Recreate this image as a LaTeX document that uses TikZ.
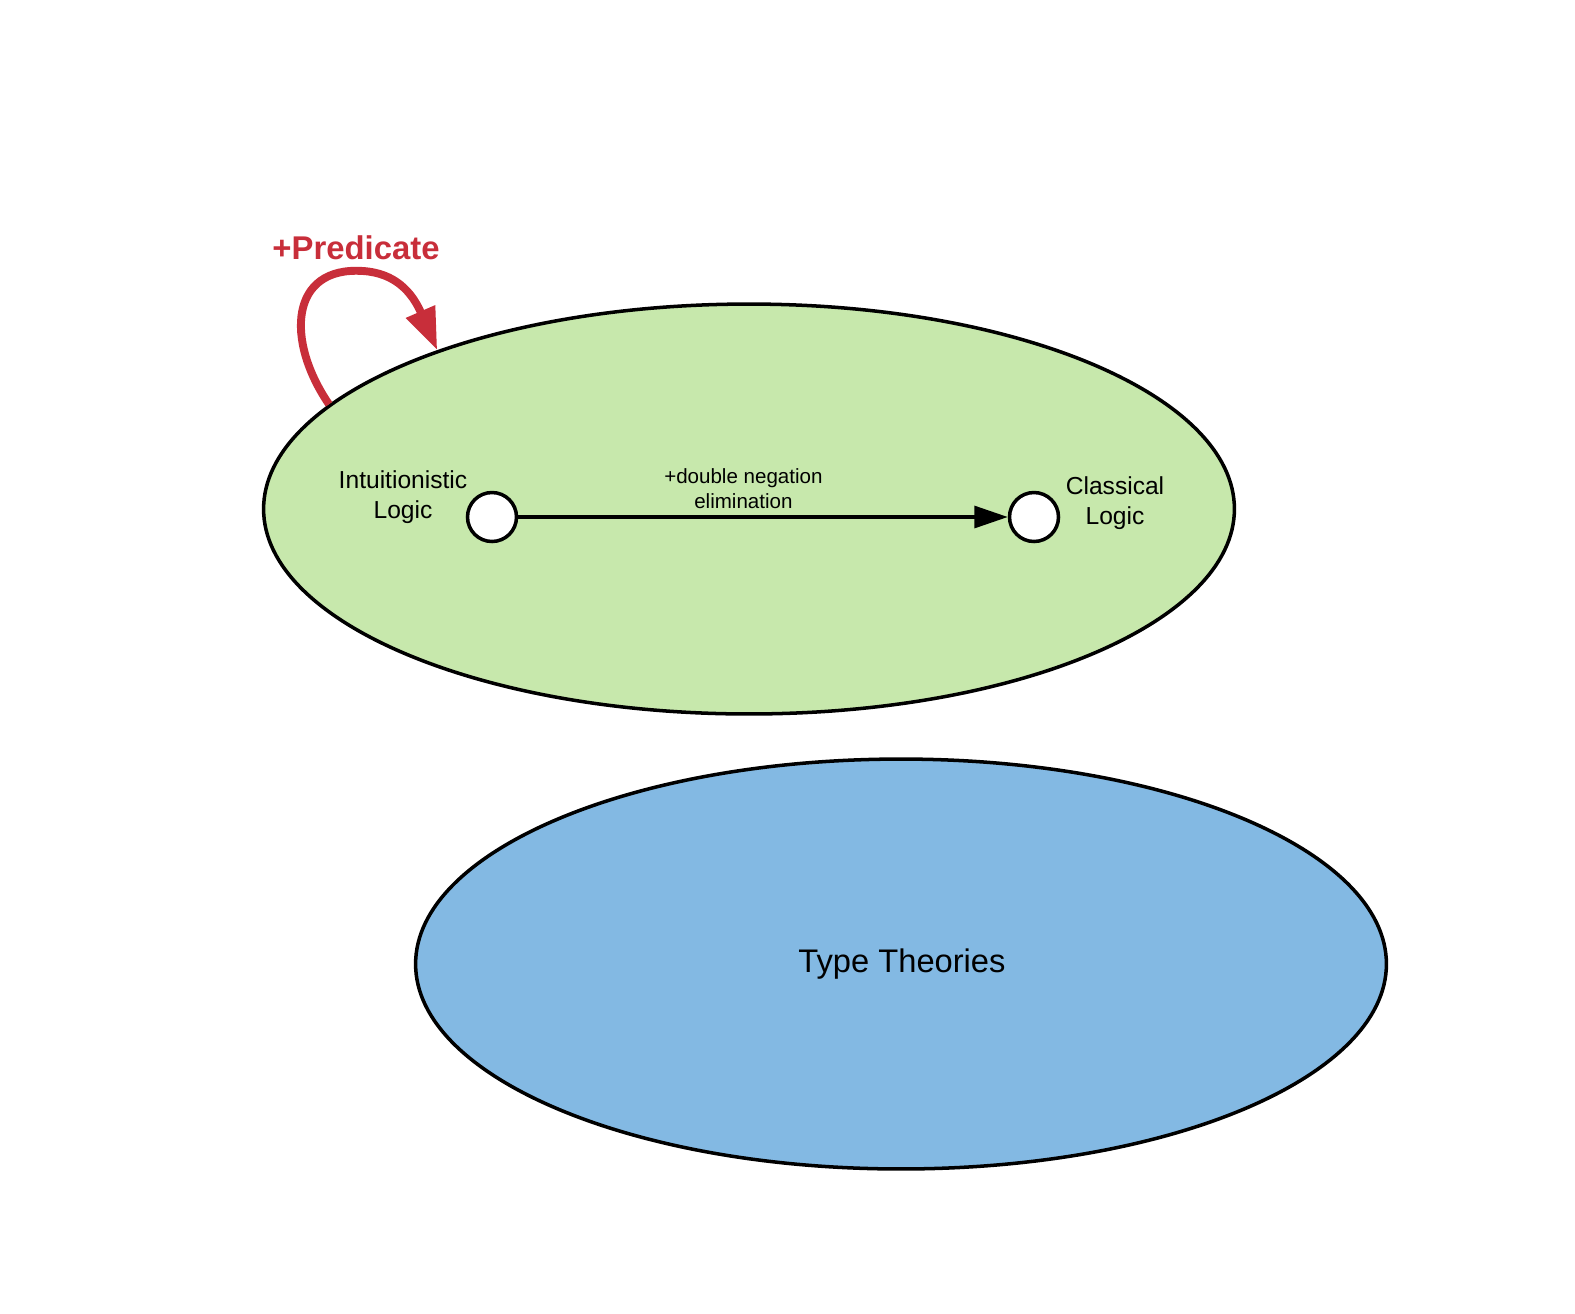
\documentclass[tikz,border=0pt]{standalone}
\usepackage{fontspec}
\setmainfont{Liberation Sans}
\usetikzlibrary{shapes.geometric,arrows.meta}
\definecolor{logicgreen}{RGB}{199,232,172}
\definecolor{typeblue}{RGB}{131,185,227}
\definecolor{predred}{RGB}{200,46,58}
\begin{document}
\begin{tikzpicture}[x=0.02cm,y=-0.02cm]
		\tikzset{region/.style = {shape=ellipse,draw,line width=2pt,inner sep=0pt,minimum width=19.42cm,minimum height=8.2cm}}
		\tikzset{vertex/.style = {shape=circle,draw,fill=white,line width=2pt,minimum size=0.98cm,inner sep=0pt}}
		\tikzset{edge/.style = {-{Triangle[length=19pt,width=12.5pt]},line width=1.8pt}}
		\tikzset{label/.style = {align=center,inner sep=0pt}}
		\useasboundingbox (0,0) rectangle (1575,1313);
		\node[region,fill=logicgreen] (logic) at (749,509) {};
		\node[region,fill=typeblue] (types) at (901,964) {};
		\node[label,font=\fontsize{18.6}{22}\selectfont] (tt) at (902,964) {Type Theories};
		\node[vertex] (il) at (492,517) {};
		\node[vertex] (cl) at (1034,517) {};
		\node[label,font=\fontsize{14}{17}\selectfont] (iltext) at (403,497) {Intuitionistic\\Logic};
		\node[label,font=\fontsize{14}{17}\selectfont] (cltext) at (1115,503) {Classical\\Logic};
		\path[edge,draw] (il) edge node[label,pos=0.46,above=4pt,font=\fontsize{11.7}{14.2}\selectfont] {+double negation\\elimination} (cl);
		\node[label,text=predred,font=\bfseries\fontsize{18.7}{22}\selectfont] (pred) at (356,248) {+Predicate};
		\draw[predred,line width=4.5pt,-{Triangle[length=24pt,width=17pt]}] (logic.166) .. controls (285,340) and (290,266) .. (363,271) .. controls (395,273) and (412,292) .. (logic.153);
	\end{tikzpicture}
\end{document}
